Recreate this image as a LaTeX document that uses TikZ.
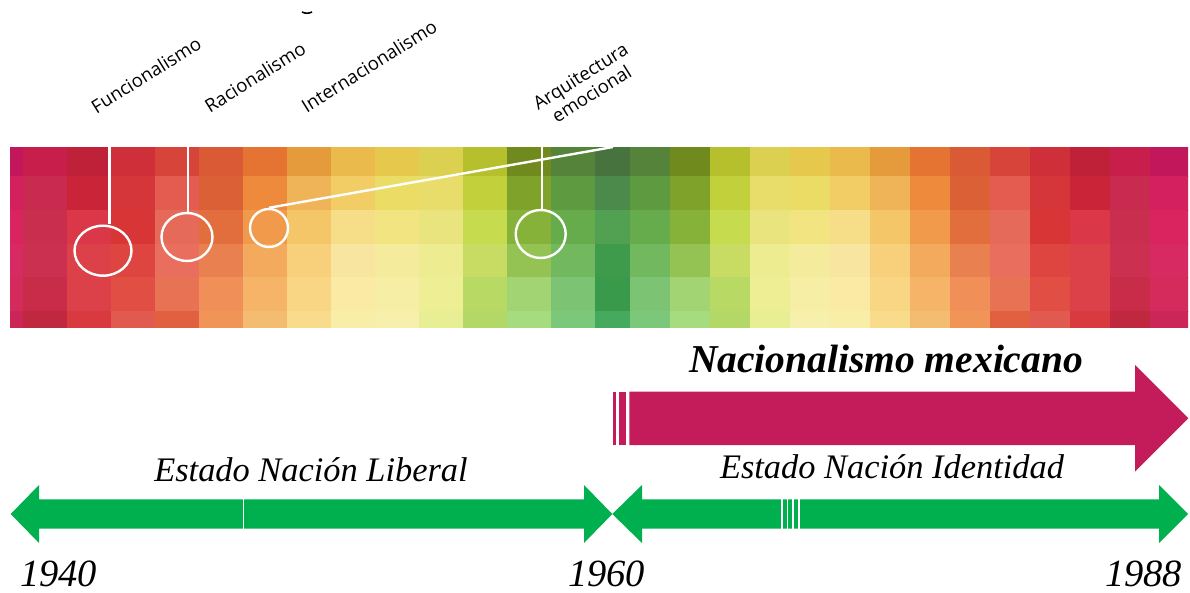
\documentclass[tikz,border=0pt]{standalone}
\usepackage{fontspec}
\setmainfont{Liberation Serif}
\newfontfamily\labelfont{Open Sans}
\usepackage{tikz}
\usetikzlibrary{shapes.geometric}
\definecolor{nacmag}{HTML}{C41B5B}
\definecolor{estgreen}{HTML}{00B04F}

\newcommand{\cellrow}[3]{%
  \foreach \c [count=\d from 0] in {#3}{
    \definecolor{cell}{HTML}{\c}
    \ifnum\d=0
      \fill[cell, draw=cell, line width=0.3pt] (594,#1) rectangle (630,#2);
    \else
      \fill[cell, draw=cell, line width=0.3pt] ({594-44*\d},#1) rectangle ({594-44*(\d-1)},#2);
      \fill[cell, draw=cell, line width=0.3pt] ({630+40*(\d-1)},#1) rectangle ({630+40*\d},#2);
    \fi
  }}

\begin{document}
\begin{tikzpicture}[x=1pt, y=-1pt,
  ring/.style={ellipse, draw=white, line width=2.4pt, inner sep=0pt},
  wire/.style={white, line width=2.4pt},
  school/.style={font=\labelfont\fontsize{18.5}{21}\selectfont, rotate=32, align=center, inner sep=0pt},
  period/.style={font=\itshape\fontsize{34.4}{36}\selectfont, anchor=base, inner sep=0pt},
  year/.style={font=\itshape\fontsize{38.5}{40}\selectfont, anchor=base west, inner sep=0pt}]
\useasboundingbox (0,0) rectangle (1190,593);
\begin{scope}
\clip (10,147) rectangle (1188,327);
\cellrow{147}{176}{46733E,55833A,708A1E,B5C02C,DCD050,E6C84C,EBBA4C,E59B3C,E57432,D95A35,D6443A,CE2F38,BF2238,C81E4B,C2185B}
\cellrow{176}{210}{4B8A4A,5E9A40,7EA22A,C2D03C,E8DC6A,EADC64,F2CC64,F0B458,EE8A3C,DC6036,E45C50,D4363A,CA2438,C82A50,D4205E}
\cellrow{210}{244}{52A052,66AC4C,86B23A,C6DC4E,EAE47E,F2E480,F6DE88,F5C668,F29A4C,E26E3E,E66A5A,D83636,DA3848,CA2E4E,DA2460}
\cellrow{244}{277}{3F9B4C,72B85E,94C354,C8DC64,EEEC90,F4EC9C,F8E6A0,F8D07C,F4AA5C,E88050,EA6E5E,DE4440,DC4048,CC3050,D82A62}
\cellrow{277}{311}{399A4B,7CC474,A2D474,B8DA64,EEEE94,F6EEA4,FAEAA4,F8D684,F6B468,F09058,E87254,E04E44,DC4048,C82C48,D42A5C}
\cellrow{311}{327}{46AA5E,7CC87A,A6DC7E,B4D868,E8EE94,F6F0AC,F8EEA8,F8DC8C,F4BC70,F09458,E06040,E05A50,D83A40,C02840,CC2658}
\end{scope}

\node[ring, minimum width=57pt, minimum height=50pt] (funcring) at (103,250.7) {};
\node[ring, minimum width=51pt, minimum height=48pt] (racring) at (187,237) {};
\node[ring, minimum width=38pt, minimum height=38pt] (intring) at (269,228) {};
\node[ring, minimum width=50pt, minimum height=48pt] (arqring) at (540.7,234) {};
\coordinate (functop) at (109.3,147);
\coordinate (ractop) at (188,147);
\coordinate (inttop) at (613,147);
\coordinate (arqtop) at (541.7,147);
\draw[wire] (functop) -- (functop |- funcring.north);
\draw[wire] (ractop) -- (ractop |- racring.north);
\draw[wire] (intring.north) -- (inttop);
\draw[wire] (arqtop) -- (arqtop |- arqring.north);

\node[school] (funclabel) at (146,75) {Funcionalismo};
\node[school] (raclabel) at (255,77) {Racionalismo};
\node[school] (intlabel) at (369,66) {Internacionalismo};
\node[school] (arqlabel) at (586,85) {Arquitectura\\emocional};
\draw[line width=1.6pt] (302,12) to[bend right=25] (312,12);

\fill[nacmag] (612.7,391.7) rectangle (616,445);
\fill[nacmag] (619.3,391.7) rectangle (626,445);
\fill[nacmag] (629.3,391.7) -- (1135,391.7) -- (1135,365) -- (1188.3,418.3) -- (1135,471.6) -- (1135,445) -- (629.3,445) -- cycle;

\fill[estgreen] (10.7,514) -- (39,485) -- (39,499.3) -- (584,499.3) -- (584,485) -- (612.3,514) -- (584,543) -- (584,528.7) -- (39,528.7) -- (39,543) -- cycle;
\draw[white, line width=0.6pt] (243,499.3) -- (243,528.7);
\fill[estgreen] (612.3,514) -- (642,485) -- (642,499.3) -- (1159,499.3) -- (1159,485) -- (1188,514) -- (1159,543) -- (1159,528.7) -- (642,528.7) -- (642,543) -- cycle;
\foreach \x in {782,787.5,793,799}
  \draw[white, line width=1.3pt] (\x,499.3) -- (\x,528.7);

\node[font=\bfseries\itshape\fontsize{39.5}{42}\selectfont, anchor=base, inner sep=0pt] (nacional) at (886,372) {Nacionalismo mexicano};
\node[period] (liberal) at (311,481) {Estado Nación Liberal};
\node[period] (identidad) at (892,478) {Estado Nación Identidad};
\node[year] (y1940) at (20,586) {1940};
\node[year] (y1960) at (568,586) {1960};
\node[year] (y1988) at (1105,586) {1988};
\end{tikzpicture}
\end{document}
